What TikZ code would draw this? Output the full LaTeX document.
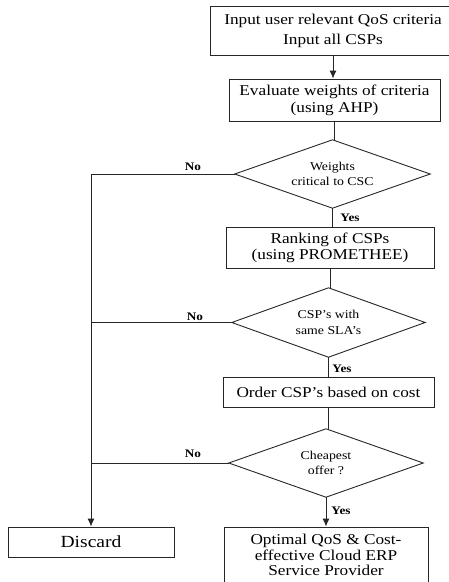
\documentclass[tikz,border=0pt]{standalone}
\usepackage{fontspec}
\setmainfont[FakeStretch=1.15]{Liberation Serif}
\usetikzlibrary{arrows.meta}
\tikzset{
  ln/.style={draw=black!85,line width=0.9pt},
  boxn/.style={ln,rectangle,inner sep=0pt,align=center,font=\fontsize{15}{17}\selectfont},
  dia/.style={rectangle,inner sep=0pt,align=center,font=\fontsize{12}{15.5}\selectfont},
  lab/.style={inner sep=0pt,font=\fontsize{11.5}{13}\selectfont\bfseries},
  arr/.style={ln,-{Latex[length=8pt,width=7pt]}}
}
\begin{document}
\begin{tikzpicture}[x=1pt,y=-1pt]
\useasboundingbox (0,0) rectangle (449,582);
\node[boxn,minimum width=246pt,minimum height=49pt] (b1) at (333,30.5) {Input user relevant QoS criteria\\[3pt]Input all CSPs};
\node[boxn,minimum width=211pt,minimum height=42pt] (b2) at (334.5,100) {Evaluate weights of criteria\\(using AHP)};
\node[dia,minimum width=195pt,minimum height=68pt] (d1) at (332.5,174) {Weights\\critical to CSC};
\node[boxn,minimum width=208pt,minimum height=41pt,font=\fontsize{15}{16}\selectfont] (b3) at (330,247.5) {Ranking of CSPs\\(using PROMETHEE)};
\node[dia,minimum width=193pt,minimum height=69pt] (d2) at (328.5,322.5) {CSP's with\\same SLA's};
\node[boxn,minimum width=211pt,minimum height=30pt] (b4) at (328.5,392) {Order CSP's based on cost};
\node[dia,minimum width=194pt,minimum height=68pt] (d3) at (326,463) {Cheapest\\offer ?};
\node[boxn,minimum width=166pt,minimum height=30pt,font=\fontsize{17}{19}\selectfont] (disc) at (91,542) {Discard};
\node[boxn,minimum width=204pt,minimum height=56pt,font=\fontsize{15}{15.5}\selectfont] (fin) at (326,555) {Optimal QoS \& Cost-\\effective Cloud ERP\\Service Provider};
\foreach \d in {d1,d2,d3}
  \draw[ln] (\d.north) -- (\d.east) -- (\d.south) -- (\d.west) -- cycle;
\draw[arr] (b1.south) -- (b1.south |- b2.north);
\draw[ln] (b2.south) -- (b2.south |- d1.north);
\draw[ln] (d1.south) -- (d1.south |- b3.north);
\draw[ln] (b3.south) -- (b3.south |- d2.north);
\draw[ln] (d2.south) -- (d2.south |- b4.north);
\draw[ln] (b4.south) -- (b4.south |- d3.north);
\draw[arr] (d3.south) -- (d3.south |- fin.north);
\draw[arr] (d1.west) -- (d1.west -| disc.north) -- (disc.north);
\draw[ln] (d2.west) -- (d2.west -| disc.north);
\draw[ln] (d3.west) -- (d3.west -| disc.north);
\node[lab] (no1) at (193,167) {No};
\node[lab] (no2) at (195,317) {No};
\node[lab] (no3) at (193,454) {No};
\node[lab] (yes1) at (350,218) {Yes};
\node[lab] (yes2) at (342,369) {Yes};
\node[lab] (yes3) at (341,511) {Yes};
\end{tikzpicture}
\end{document}
